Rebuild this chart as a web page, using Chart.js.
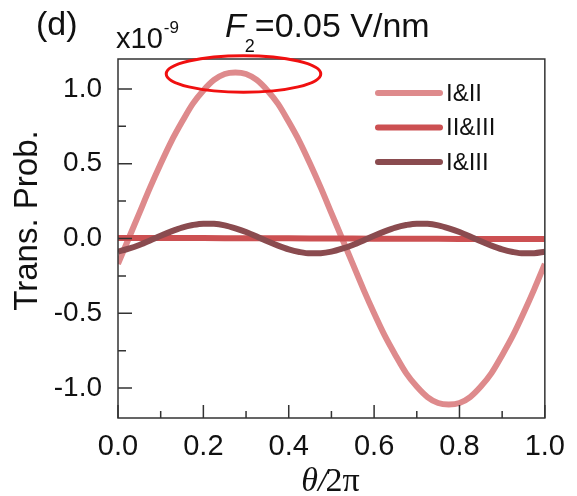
<!DOCTYPE html>
<html>
<head>
<meta charset="utf-8">
<script src="https://cdn.jsdelivr.net/npm/chart.js@4.4.1/dist/chart.umd.min.js"></script>
<style>
  html, body { margin: 0; padding: 0; background: #fff; }
  #wrap { width: 577px; height: 496px; }
</style>
</head>
<body>
<div id="wrap"><canvas id="chart"></canvas></div>
<script>
// theta / 2pi sample positions
const thetaX = [0, 0.025, 0.05, 0.075, 0.1, 0.125, 0.15, 0.175, 0.2, 0.225,
                0.25, 0.275, 0.3, 0.325, 0.35, 0.375, 0.4, 0.425, 0.45, 0.475,
                0.5, 0.525, 0.55, 0.575, 0.6, 0.625, 0.65, 0.675, 0.7, 0.725,
                0.75, 0.775, 0.8, 0.825, 0.85, 0.875, 0.9, 0.925, 0.95, 0.975, 1.0];

// transition probabilities (x1e-9)
const probI_II = [-0.17, 0.00, 0.17, 0.34, 0.50, 0.65, 0.78, 0.90, 0.99, 1.06,
                  1.10, 1.11, 1.10, 1.06, 0.99, 0.90, 0.78, 0.65, 0.50, 0.34,
                  0.17, 0.00, -0.17, -0.34, -0.50, -0.65, -0.78, -0.90, -0.99, -1.06,
                  -1.10, -1.11, -1.10, -1.06, -0.99, -0.90, -0.78, -0.65, -0.50, -0.34, -0.17];
const probI_III = [-0.088, -0.068, -0.043, -0.013, 0.019, 0.048, 0.073, 0.090, 0.099, 0.098,
                   0.088, 0.068, 0.043, 0.013, -0.019, -0.048, -0.073, -0.090, -0.099, -0.098,
                   -0.088, -0.068, -0.043, -0.013, 0.019, 0.048, 0.073, 0.090, 0.099, 0.098,
                   0.088, 0.068, 0.043, 0.013, -0.019, -0.048, -0.073, -0.090, -0.099, -0.098, -0.088];
const thetaX2 = [0, 0.1, 0.2, 0.3, 0.4, 0.5, 0.6, 0.7, 0.8, 0.9, 1.0];
const probII_III = [0.004, 0.004, 0.003, 0.002, 0.001, 0.000, -0.001, -0.002, -0.003, -0.004, -0.004];

const xTicks = [0, 0.2, 0.4, 0.6, 0.8, 1.0];
const xMinorTicks = [0.1, 0.3, 0.5, 0.7, 0.9];
const yTicks = [-1.0, -0.5, 0, 0.5, 1.0];
const yMinorTicks = [-0.75, -0.25, 0.25, 0.75];

const seriesNames = ['I&II', 'II&III', 'I&III'];
const seriesColors = ['#de8a8c', '#cc5052', '#8a4b4f'];

const SANS = '"Liberation Sans", Arial, sans-serif';
const SERIF = '"Liberation Serif", "Times New Roman", serif';

function toPoints(xs, ys) {
    return xs.map((x, i) => ({ x: x, y: ys[i] }));
}

// Frame, inward ticks, labels, legend and highlight ellipse
const decorPlugin = {
    id: 'decor',
    afterDraw(chart) {
        const ctx = chart.ctx;
        const a = chart.chartArea;
        const xs = chart.scales.x;
        const ys = chart.scales.y;

        ctx.save();
        ctx.strokeStyle = '#333';
        ctx.lineWidth = 1.5;
        ctx.strokeRect(a.left, a.top, a.right - a.left, a.bottom - a.top);

        // inward ticks
        ctx.beginPath();
        xTicks.forEach(v => { const p = xs.getPixelForValue(v); ctx.moveTo(p, a.bottom); ctx.lineTo(p, a.bottom - 13); });
        xMinorTicks.forEach(v => { const p = xs.getPixelForValue(v); ctx.moveTo(p, a.bottom); ctx.lineTo(p, a.bottom - 7); });
        yTicks.forEach(v => { const p = ys.getPixelForValue(v); ctx.moveTo(a.left, p); ctx.lineTo(a.left + 14, p); });
        yMinorTicks.forEach(v => { const p = ys.getPixelForValue(v); ctx.moveTo(a.left, p); ctx.lineTo(a.left + 8, p); });
        ctx.stroke();

        // highlight ellipse around the I&II maximum
        const cx = xs.getPixelForValue(0.294);
        const cy = ys.getPixelForValue(1.10);
        const rx = xs.getPixelForValue(0.294 + 0.181) - cx;
        const ry = cy - ys.getPixelForValue(1.10 + 0.122);
        ctx.beginPath();
        ctx.ellipse(cx, cy, rx, ry, 0, 0, Math.PI * 2);
        ctx.strokeStyle = '#f01010';
        ctx.lineWidth = 3;
        ctx.stroke();

        // legend
        ctx.lineCap = 'round';
        ctx.lineWidth = 6;
        ctx.font = '24px ' + SANS;
        ctx.textBaseline = 'middle';
        ctx.textAlign = 'left';
        seriesNames.forEach((name, i) => {
            const y = 93 + i * 34.5;
            ctx.strokeStyle = seriesColors[i];
            ctx.beginPath();
            ctx.moveTo(378, y);
            ctx.lineTo(440, y);
            ctx.stroke();
            ctx.fillStyle = '#111';
            ctx.fillText(name, 446, y + 1);
        });

        // panel label, multiplier, title
        ctx.fillStyle = '#111';
        ctx.textBaseline = 'alphabetic';
        ctx.font = '34px ' + SANS;
        ctx.fillText('(d)', 36, 35);

        ctx.font = '29px ' + SANS;
        ctx.fillText('x10', 116, 48);
        const w10 = ctx.measureText('x10').width;
        ctx.font = '17px ' + SANS;
        ctx.fillText('-9', 116 + w10 + 1, 33);

        ctx.font = 'italic 34px ' + SANS;
        ctx.fillText('F', 225, 37);
        let tx = 225 + ctx.measureText('F').width;
        ctx.font = '18px ' + SANS;
        ctx.fillText('2', tx - 1, 52);
        tx += ctx.measureText('2').width - 1;
        ctx.font = '34px ' + SANS;
        ctx.fillText('=0.05 V/nm', tx, 37);

        // y axis title
        ctx.save();
        ctx.translate(37, (a.top + a.bottom) / 2 - 18);
        ctx.rotate(-Math.PI / 2);
        ctx.textAlign = 'center';
        ctx.font = '33px ' + SANS;
        ctx.fillText('Trans. Prob.', 0, 0);
        ctx.restore();

        // x axis title: theta/2pi
        ctx.font = 'italic 34px ' + SERIF;
        const part1 = '\u03B8/';
        const w1 = ctx.measureText(part1).width;
        ctx.font = '34px ' + SERIF;
        const part2 = '2\u03C0';
        const w2 = ctx.measureText(part2).width;
        const startX = (a.left + a.right) / 2 - (w1 + w2) / 2;
        ctx.font = 'italic 34px ' + SERIF;
        ctx.fillText(part1, startX, 491);
        ctx.font = '34px ' + SERIF;
        ctx.fillText(part2, startX + w1 - 2, 491);

        ctx.restore();
    }
};

new Chart(document.getElementById('chart'), {
    type: 'line',
    data: {
        datasets: [
            {
                label: seriesNames[2],
                data: toPoints(thetaX, probI_III),
                borderColor: seriesColors[2],
                order: 0
            },
            {
                label: seriesNames[1],
                data: toPoints(thetaX2, probII_III),
                borderColor: seriesColors[1],
                order: 1
            },
            {
                label: seriesNames[0],
                data: toPoints(thetaX, probI_II),
                borderColor: seriesColors[0],
                order: 2
            }
        ]
    },
    options: {
        responsive: true,
        maintainAspectRatio: false,
        animation: false,
        devicePixelRatio: 1,
        layout: { padding: { left: 0, top: 59, right: 30, bottom: 0 } },
        elements: {
            point: { radius: 0 },
            line: { borderWidth: 6, cubicInterpolationMode: 'monotone', fill: false, borderCapStyle: 'butt' }
        },
        plugins: {
            legend: { display: false },
            title: { display: false },
            tooltip: { enabled: false }
        },
        scales: {
            x: {
                type: 'linear',
                min: 0,
                max: 1,
                afterFit: s => { s.height = 78; },
                afterBuildTicks: s => { s.ticks = xTicks.map(v => ({ value: v })); },
                grid: { display: false, drawTicks: false, tickLength: 0 },
                border: { display: false },
                ticks: {
                    padding: 12,
                    color: '#111',
                    font: { family: SANS, size: 29 },
                    maxRotation: 0,
                    callback: v => v.toFixed(1)
                }
            },
            y: {
                type: 'linear',
                min: -1.2,
                max: 1.2,
                afterFit: s => { s.width = 118; },
                afterBuildTicks: s => { s.ticks = yTicks.map(v => ({ value: v })); },
                grid: { display: false, drawTicks: false, tickLength: 0 },
                border: { display: false },
                ticks: {
                    padding: 16,
                    color: '#111',
                    font: { family: SANS, size: 28 },
                    callback: v => v.toFixed(1)
                }
            }
        }
    },
    plugins: [decorPlugin]
});
</script>
</body>
</html>
